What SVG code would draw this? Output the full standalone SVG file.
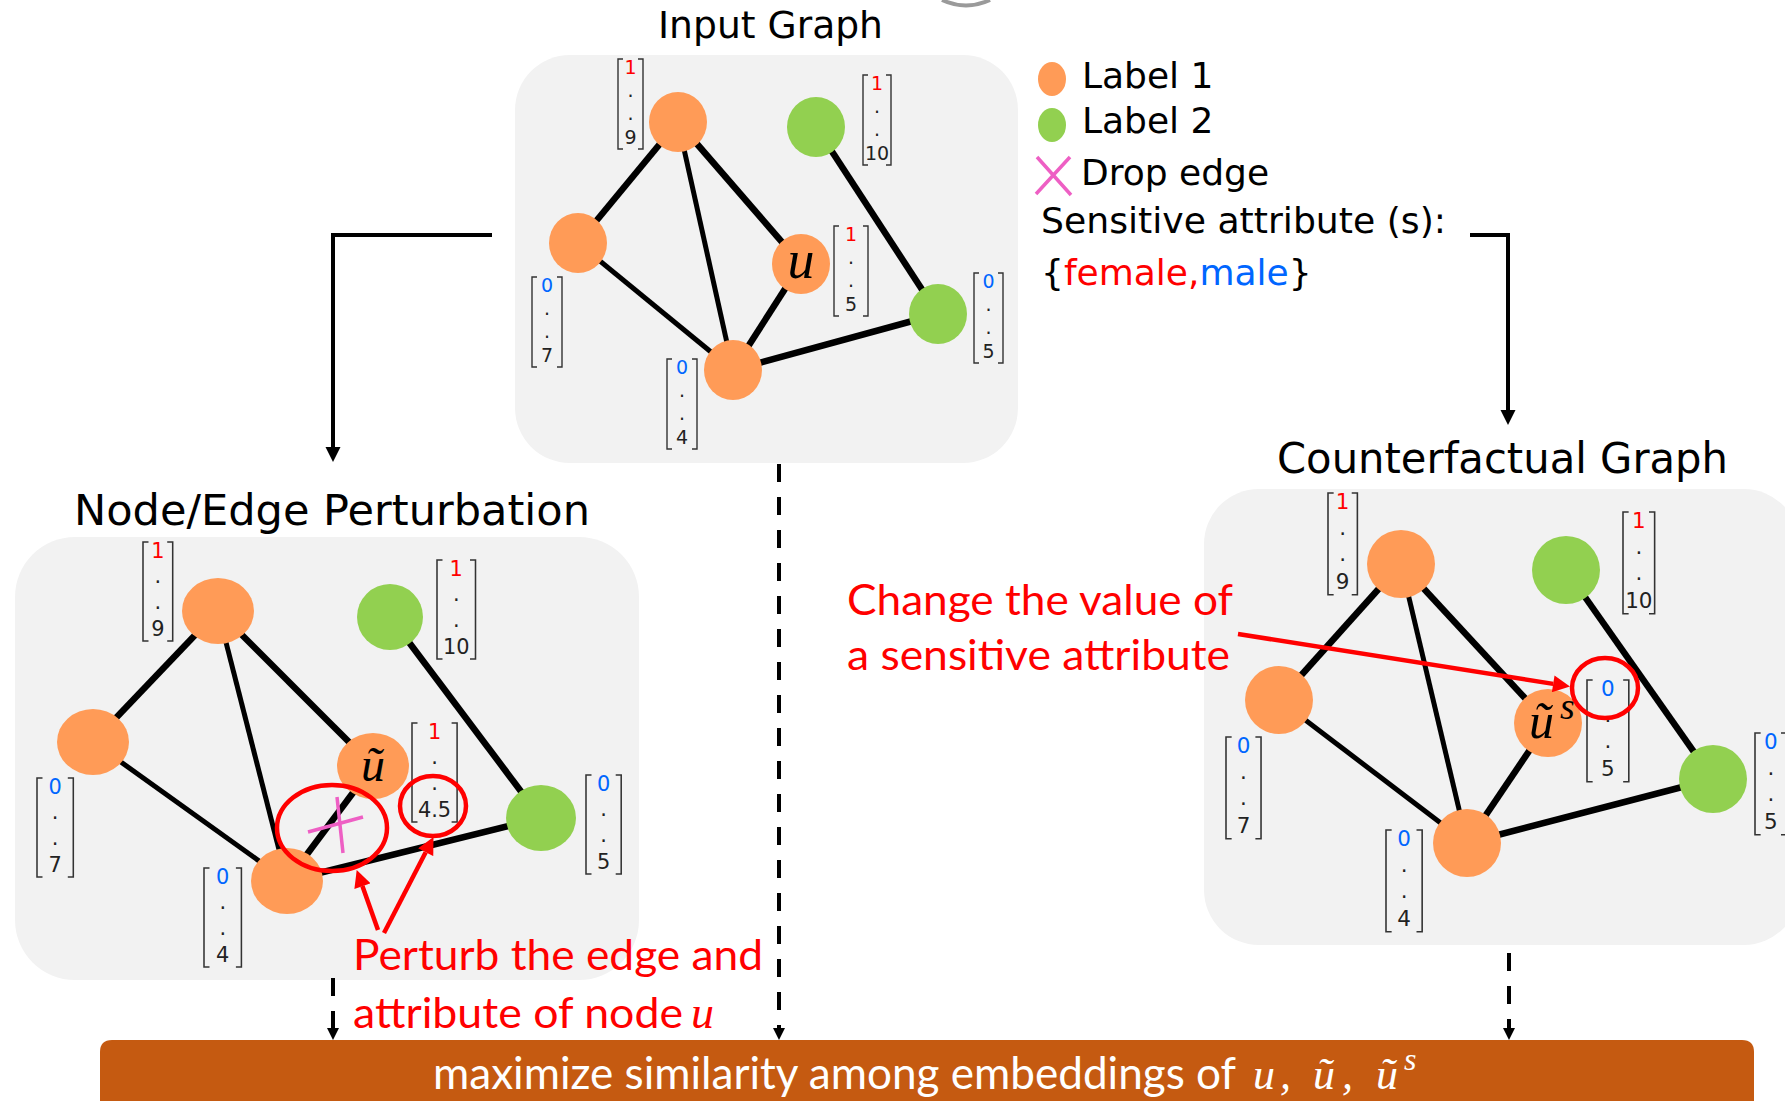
<svg xmlns="http://www.w3.org/2000/svg" width="1785" height="1101" viewBox="0 0 1785 1101">
<defs>
<style>
.panel{fill:#F2F2F2}
.e{stroke:#000;stroke-width:6.5}
.e2{stroke:#000;stroke-width:5}
.o{fill:#FF9B57}
.g{fill:#92D050}
.br{fill:none;stroke:#333;stroke-width:1.4}
.v{font-family:"DejaVu Sans",Verdana,sans-serif;font-size:19px;fill:#222;text-anchor:middle}
.r{fill:#FF0000}
.b{fill:#0066FF}
.title{font-family:"DejaVu Sans",Verdana,sans-serif;fill:#000}
.ann{font-family:Lato,"Open Sans",sans-serif;fill:#FF0000;font-size:42px}
.math{font-family:"Liberation Serif","DejaVu Serif",serif;font-style:italic}
.conn{stroke:#000;stroke-width:4;fill:none}
.dash{stroke-dasharray:18 15}
.red{stroke:#FF0000;stroke-width:4.5;fill:none}
.pink{stroke:#EE5FC4;stroke-width:3.5;fill:none}
</style>
<marker id="ah" viewBox="0 0 10 10" refX="0" refY="5" markerWidth="15" markerHeight="16" markerUnits="userSpaceOnUse" orient="auto"><path d="M0,0L10,5L0,10z" fill="#000"/></marker>
<marker id="ahs" viewBox="0 0 10 10" refX="0" refY="5" markerWidth="12" markerHeight="14" markerUnits="userSpaceOnUse" orient="auto"><path d="M0,0L10,5L0,10z" fill="#000"/></marker>
<marker id="ahr" viewBox="0 0 10 10" refX="0" refY="5" markerWidth="18" markerHeight="17" markerUnits="userSpaceOnUse" orient="auto"><path d="M0,0L10,5L0,10z" fill="#FF0000"/></marker>
</defs>

<!-- small grey fragment at top -->
<path d="M942,0 Q966,11 990,0" fill="none" stroke="#9a9a9a" stroke-width="4"/>

<!-- panels -->
<g id="panels">
<rect id="panel-input" class="panel" x="515" y="55" width="503" height="408" rx="55"/>
<rect id="panel-perturb" class="panel" x="15" y="537" width="624" height="443" rx="60"/>
<rect id="panel-cf" class="panel" x="1204" y="489" width="595" height="456" rx="55"/>
</g>

<!-- titles -->
<text id="t-input" class="title" x="658" y="38" font-size="38" textLength="225" lengthAdjust="spacingAndGlyphs">Input Graph</text>
<text id="t-perturb" class="title" x="74" y="525" font-size="43" textLength="516" lengthAdjust="spacingAndGlyphs">Node/Edge Perturbation</text>
<text id="t-cf" class="title" x="1277" y="473" font-size="43" textLength="451" lengthAdjust="spacingAndGlyphs">Counterfactual Graph</text>

<!-- connectors -->
<g id="connectors">
<g id="edges-input">
<line class="e" x1="678" y1="122" x2="578" y2="243"/>
<line class="e2" x1="678" y1="122" x2="733" y2="370"/>
<line class="e" x1="678" y1="122" x2="801" y2="264"/>
<line class="e" x1="816" y1="127" x2="938" y2="314"/>
<line class="e2" x1="578" y1="243" x2="733" y2="370"/>
<line class="e" x1="801" y1="264" x2="733" y2="370"/>
<line class="e" x1="733" y1="370" x2="938" y2="314"/>
</g>
<g id="edges-perturb">
<line class="e" stroke-width="7" x1="218" y1="611" x2="93" y2="742"/>
<line class="e2" stroke-width="5.5" x1="218" y1="611" x2="287" y2="881"/>
<line class="e" stroke-width="7" x1="218" y1="611" x2="373" y2="766"/>
<line class="e" stroke-width="7" x1="390" y1="617" x2="541" y2="818"/>
<line class="e2" stroke-width="6" x1="93" y1="742" x2="287" y2="881"/>
<line class="e" stroke-width="6.5" x1="373" y1="766" x2="287" y2="881"/>
<line class="e" stroke-width="6.5" x1="287" y1="881" x2="541" y2="818"/>
</g>
<g id="edges-cf">
<line class="e" stroke-width="7" x1="1401" y1="564" x2="1279" y2="700"/>
<line class="e2" stroke-width="5.5" x1="1401" y1="564" x2="1467" y2="843"/>
<line class="e" stroke-width="7" x1="1401" y1="564" x2="1548" y2="723"/>
<line class="e" stroke-width="7" x1="1566" y1="570" x2="1713" y2="779"/>
<line class="e2" stroke-width="6" x1="1279" y1="700" x2="1467" y2="843"/>
<line class="e" stroke-width="6.5" x1="1548" y1="723" x2="1467" y2="843"/>
<line class="e" stroke-width="6.5" x1="1467" y1="843" x2="1713" y2="779"/>
</g>
<g id="flow">
<path class="conn" d="M492,235H333V447" marker-end="url(#ah)"/>
<path class="conn" d="M1470,235H1508V410" marker-end="url(#ah)"/>
<path class="conn dash" d="M779,464V1028" marker-end="url(#ahs)"/>
<path class="conn dash" d="M333,978V1028" marker-end="url(#ahs)"/>
<path class="conn dash" d="M1509,953V1028" marker-end="url(#ahs)"/>
</g>
</g>

<!-- input graph nodes -->
<g id="in-n-top"><ellipse class="o" cx="678" cy="122" rx="29" ry="30"/></g>
<g id="in-n-left"><ellipse class="o" cx="578" cy="243" rx="29" ry="30"/></g>
<g id="in-n-u"><ellipse class="o" cx="801" cy="264" rx="29" ry="30"/><text class="math" x="801" y="278" font-size="54" text-anchor="middle">u</text></g>
<g id="in-n-bottom"><ellipse class="o" cx="733" cy="370" rx="29" ry="30"/></g>
<g id="in-n-gtop"><ellipse class="g" cx="816" cy="127" rx="29" ry="30"/></g>
<g id="in-n-gright"><ellipse class="g" cx="938" cy="314" rx="29" ry="30"/></g>

<!-- perturbation graph nodes -->
<g id="pt-n-top"><ellipse class="o" cx="218" cy="611" rx="36" ry="33"/></g>
<g id="pt-n-left"><ellipse class="o" cx="93" cy="742" rx="36" ry="33"/></g>
<g id="pt-n-u"><ellipse class="o" cx="373" cy="766" rx="36" ry="33"/><text class="math" x="373" y="781" font-size="48" text-anchor="middle">ũ</text></g>
<g id="pt-n-bottom"><ellipse class="o" cx="287" cy="881" rx="36" ry="33"/></g>
<g id="pt-n-gtop"><ellipse class="g" cx="390" cy="617" rx="33" ry="33"/></g>
<g id="pt-n-gright"><ellipse class="g" cx="541" cy="818" rx="35" ry="33"/></g>

<!-- counterfactual graph nodes -->
<g id="cf-n-top"><ellipse class="o" cx="1401" cy="564" rx="34" ry="34"/></g>
<g id="cf-n-left"><ellipse class="o" cx="1279" cy="700" rx="34" ry="34"/></g>
<g id="cf-n-u"><ellipse class="o" cx="1548" cy="723" rx="34" ry="34"/><text class="math" x="1529" y="738" font-size="50">ũ</text><text class="math" x="1560" y="719" font-size="38">s</text></g>
<g id="cf-n-bottom"><ellipse class="o" cx="1467" cy="843" rx="34" ry="34"/></g>
<g id="cf-n-gtop"><ellipse class="g" cx="1566" cy="570" rx="34" ry="34"/></g>
<g id="cf-n-gright"><ellipse class="g" cx="1713" cy="779" rx="34" ry="34"/></g>

<!-- feature vectors: input graph -->
<g id="vec-in-top" transform="translate(618,59)"><path class="br" d="M5,0H0V90H5M20,0H25V90H20"/><text class="v r" x="12.5" y="14.5">1</text><text class="v" x="12.5" y="37.5">.</text><text class="v" x="12.5" y="60.5">.</text><text class="v" x="12.5" y="85">9</text></g>
<g id="vec-in-gtop" transform="translate(863,75)"><path class="br" d="M5,0H0V90H5M23,0H28V90H23"/><text class="v r" x="14" y="14.5">1</text><text class="v" x="14" y="37.5">.</text><text class="v" x="14" y="60.5">.</text><text class="v" x="14" y="85">10</text></g>
<g id="vec-in-u" transform="translate(834,226)"><path class="br" d="M5,0H0V90H5M29,0H34V90H29"/><text class="v r" x="17" y="14.5">1</text><text class="v" x="17" y="37.5">.</text><text class="v" x="17" y="60.5">.</text><text class="v" x="17" y="85">5</text></g>
<g id="vec-in-left" transform="translate(532,277)"><path class="br" d="M5,0H0V90H5M25,0H30V90H25"/><text class="v b" x="15" y="14.5">0</text><text class="v" x="15" y="37.5">.</text><text class="v" x="15" y="60.5">.</text><text class="v" x="15" y="85">7</text></g>
<g id="vec-in-bottom" transform="translate(667,359)"><path class="br" d="M5,0H0V90H5M25,0H30V90H25"/><text class="v b" x="15" y="14.5">0</text><text class="v" x="15" y="37.5">.</text><text class="v" x="15" y="60.5">.</text><text class="v" x="15" y="85">4</text></g>
<g id="vec-in-gright" transform="translate(974,273)"><path class="br" d="M5,0H0V90H5M24,0H29V90H24"/><text class="v b" x="14.5" y="14.5">0</text><text class="v" x="14.5" y="37.5">.</text><text class="v" x="14.5" y="60.5">.</text><text class="v" x="14.5" y="85">5</text></g>

<!-- feature vectors: perturbation -->
<g id="vec-pt-top" transform="translate(143,542) scale(1.1)"><path class="br" d="M5,0H0V90H5M22,0H27V90H22"/><text class="v r" x="13.5" y="14.5">1</text><text class="v" x="13.5" y="37.5">.</text><text class="v" x="13.5" y="60.5">.</text><text class="v" x="13.5" y="85">9</text></g>
<g id="vec-pt-gtop" transform="translate(437,560) scale(1.1)"><path class="br" d="M5,0H0V90H5M30,0H35V90H30"/><text class="v r" x="17.5" y="14.5">1</text><text class="v" x="17.5" y="37.5">.</text><text class="v" x="17.5" y="60.5">.</text><text class="v" x="17.5" y="85">10</text></g>
<g id="vec-pt-u" transform="translate(412,723) scale(1.1)"><path class="br" d="M5,0H0V90H5M36,0H41V90H36"/><text class="v r" x="20.5" y="14.5">1</text><text class="v" x="20.5" y="37.5">.</text><text class="v" x="20.5" y="60.5">.</text><text class="v" x="20.5" y="85">4.5</text></g>
<g id="vec-pt-left" transform="translate(37,778) scale(1.1)"><path class="br" d="M5,0H0V90H5M28,0H33V90H28"/><text class="v b" x="16.5" y="14.5">0</text><text class="v" x="16.5" y="37.5">.</text><text class="v" x="16.5" y="60.5">.</text><text class="v" x="16.5" y="85">7</text></g>
<g id="vec-pt-bottom" transform="translate(204,868) scale(1.1)"><path class="br" d="M5,0H0V90H5M29,0H34V90H29"/><text class="v b" x="17" y="14.5">0</text><text class="v" x="17" y="37.5">.</text><text class="v" x="17" y="60.5">.</text><text class="v" x="17" y="85">4</text></g>
<g id="vec-pt-gright" transform="translate(586,775) scale(1.1)"><path class="br" d="M5,0H0V90H5M27,0H32V90H27"/><text class="v b" x="16" y="14.5">0</text><text class="v" x="16" y="37.5">.</text><text class="v" x="16" y="60.5">.</text><text class="v" x="16" y="85">5</text></g>

<!-- feature vectors: counterfactual -->
<g id="vec-cf-top" transform="translate(1328,493) scale(1.13)"><path class="br" d="M5,0H0V90H5M21,0H26V90H21"/><text class="v r" x="13" y="14.5">1</text><text class="v" x="13" y="37.5">.</text><text class="v" x="13" y="60.5">.</text><text class="v" x="13" y="85">9</text></g>
<g id="vec-cf-gtop" transform="translate(1623,512) scale(1.13)"><path class="br" d="M5,0H0V90H5M23,0H28V90H23"/><text class="v r" x="14" y="14.5">1</text><text class="v" x="14" y="37.5">.</text><text class="v" x="14" y="60.5">.</text><text class="v" x="14" y="85">10</text></g>
<g id="vec-cf-u" transform="translate(1587,680) scale(1.13)"><path class="br" d="M5,0H0V90H5M32,0H37V90H32"/><text class="v b" x="18.5" y="14.5">0</text><text class="v" x="18.5" y="37.5">.</text><text class="v" x="18.5" y="60.5">.</text><text class="v" x="18.5" y="85">5</text></g>
<g id="vec-cf-left" transform="translate(1226,737) scale(1.13)"><path class="br" d="M5,0H0V90H5M26,0H31V90H26"/><text class="v b" x="15.5" y="14.5">0</text><text class="v" x="15.5" y="37.5">.</text><text class="v" x="15.5" y="60.5">.</text><text class="v" x="15.5" y="85">7</text></g>
<g id="vec-cf-bottom" transform="translate(1386,830) scale(1.13)"><path class="br" d="M5,0H0V90H5M27,0H32V90H27"/><text class="v b" x="16" y="14.5">0</text><text class="v" x="16" y="37.5">.</text><text class="v" x="16" y="60.5">.</text><text class="v" x="16" y="85">4</text></g>
<g id="vec-cf-gright" transform="translate(1755,733) scale(1.13)"><path class="br" d="M5,0H0V90H5M23,0H28V90H23"/><text class="v b" x="14" y="14.5">0</text><text class="v" x="14" y="37.5">.</text><text class="v" x="14" y="60.5">.</text><text class="v" x="14" y="85">5</text></g>

<!-- legend -->
<g id="legend">
<ellipse class="o" cx="1052" cy="79" rx="14" ry="17"/>
<text class="title" x="1082" y="88" font-size="36">Label 1</text>
<ellipse class="g" cx="1052" cy="125" rx="14" ry="17"/>
<text class="title" x="1082" y="133" font-size="36">Label 2</text>
<path class="pink" d="M1036,194L1070,157M1037,157L1071,195"/>
<text class="title" x="1081" y="185" font-size="36">Drop edge</text>
<text class="title" x="1041" y="233" font-size="36" textLength="405" lengthAdjust="spacingAndGlyphs">Sensitive attribute (s):</text>
<text class="title" x="1041" y="285" font-size="36">{<tspan fill="#FF0000">female,</tspan><tspan fill="#0066FF">male</tspan>}</text>
</g>

<!-- drop-edge mark -->
<path id="drop-x" class="pink" d="M308,832L363,817M337,797L343,853"/>

<!-- annotations -->
<g id="annotations">
<ellipse class="red" cx="332" cy="828" rx="55" ry="43"/>
<ellipse class="red" cx="433" cy="806" rx="33" ry="30"/>
<ellipse class="red" cx="1605" cy="688" rx="33" ry="30"/>
<text class="ann" x="353" y="970" textLength="410" lengthAdjust="spacingAndGlyphs">Perturb the edge and</text>
<text class="ann" x="353" y="1028" textLength="330" lengthAdjust="spacingAndGlyphs">attribute of node</text>
<text class="math" x="691" y="1028" font-size="46" fill="#FF0000">u</text>
<text class="ann" x="847" y="615" textLength="386" lengthAdjust="spacingAndGlyphs">Change the value of</text>
<text class="ann" x="847" y="670" textLength="383" lengthAdjust="spacingAndGlyphs">a sensitive attribute</text>
</g>
<g id="annotation-connectors">
<line class="red" x1="378" y1="930" x2="362.4" y2="886.1" marker-end="url(#ahr)"/>
<line class="red" x1="384" y1="933" x2="425.7" y2="852.2" marker-end="url(#ahr)"/>
<line class="red" x1="1238" y1="634" x2="1553.2" y2="683.9" marker-end="url(#ahr)"/>
</g>

<!-- objective bar -->
<g id="objective">
<path d="M112,1040H1742Q1754,1040 1754,1052V1110H100V1052Q100,1040 112,1040Z" fill="#C55A11"/>
<text x="433" y="1089" font-family="Lato,'Open Sans',sans-serif" font-size="44" fill="#FFFFFF" textLength="803" lengthAdjust="spacingAndGlyphs">maximize similarity among embeddings of</text>
<text class="math" x="1253" y="1089" font-size="44" fill="#FFFFFF">u</text>
<text class="math" x="1280" y="1089" font-size="44" fill="#FFFFFF">,</text>
<text class="math" x="1313" y="1089" font-size="44" fill="#FFFFFF">ũ</text>
<text class="math" x="1342" y="1089" font-size="44" fill="#FFFFFF">,</text>
<text class="math" x="1376" y="1089" font-size="44" fill="#FFFFFF">ũ</text>
<text class="math" x="1404" y="1070" font-size="32" fill="#FFFFFF">s</text>
</g>
</svg>
